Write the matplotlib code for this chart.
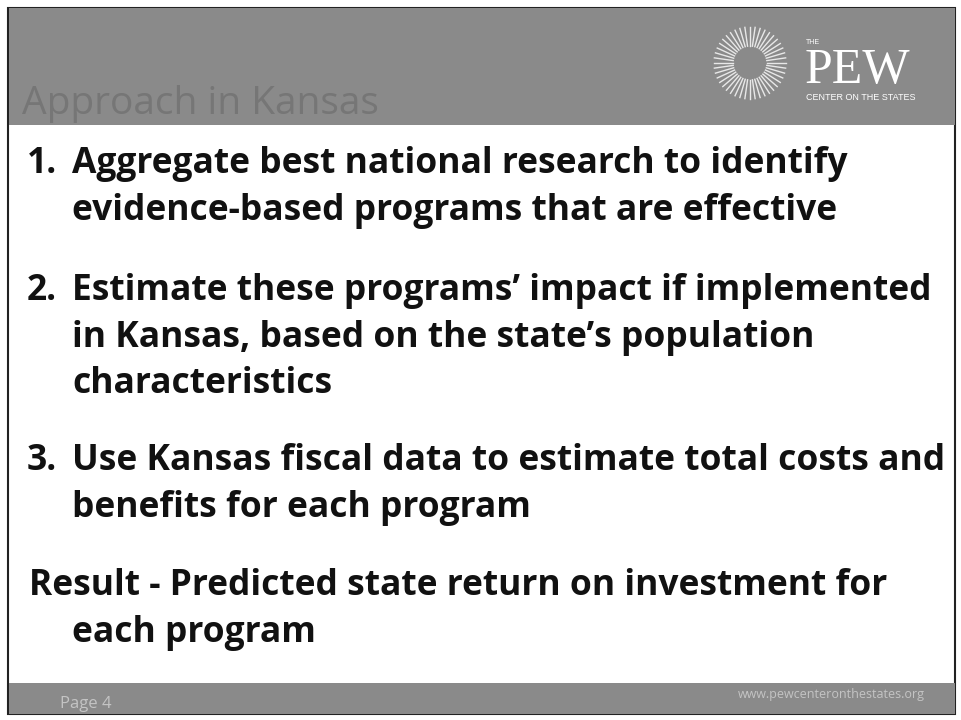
import matplotlib
matplotlib.use("Agg")
import matplotlib.pyplot as plt
from matplotlib.patches import Rectangle
import numpy as np

title = "Approach in Kansas"
# (number marker, text, is_continuation)
lines = [
    ("1.", "Aggregate best national research to identify", False),
    ("", "evidence-based programs that are effective", True),
    ("2.", "Estimate these programs\u2019 impact if implemented", False),
    ("", "in Kansas, based on the state\u2019s population", True),
    ("", "characteristics", True),
    ("3.", "Use Kansas fiscal data to estimate total costs and", False),
    ("", "benefits for each program", True),
    ("", "Result - Predicted state return on investment for", False),
    ("", "each program", True),
]
line_baselines = [173, 220, 300, 347, 393, 470, 517, 595, 642]
footer_left = "Page 4"
footer_right = "www.pewcenteronthestates.org"

W, H = 961, 720
fig = plt.figure(figsize=(W / 100, H / 100), dpi=100)
ax = fig.add_axes([0, 0, 1, 1])
ax.set_xlim(0, W)
ax.set_ylim(H, 0)
ax.axis("off")

# slide border
ax.add_patch(Rectangle((8, 8), 947, 706, facecolor="white", edgecolor="#222222", lw=1.5))
# header band
ax.add_patch(Rectangle((9, 8), 946, 117, facecolor="#8a8a8a", edgecolor="none"))
# footer band
ax.add_patch(Rectangle((9, 683), 946, 31, facecolor="#8a8a8a", edgecolor="none"))

ax.text(22, 114, title, fontsize=28, color="#767676", family="Open Sans", va="baseline")

# PEW logo: sunburst + text
cx, cy = 750, 63
for a in np.linspace(0, 2 * np.pi, 44, endpoint=False):
    r1, r2 = 17, 36
    ax.plot([cx + r1 * np.cos(a), cx + r2 * np.cos(a)],
            [cy + r1 * np.sin(a), cy + r2 * np.sin(a)], color="#e8e8e8", lw=1.0)
ax.text(806, 44, "THE", fontsize=5, color="white", family="Liberation Sans", va="baseline")
ax.text(805, 83, "PEW", fontsize=36, color="white", family="Liberation Serif", va="baseline")
ax.text(806, 100, "CENTER ON THE STATES", fontsize=6.5, color="white", family="Liberation Sans", va="baseline")

for (num, txt, cont), y in zip(lines, line_baselines):
    kw = dict(fontsize=25.5, fontweight="bold", color="#111111", family="Open Sans", va="baseline")
    if num:
        ax.text(27, y, num, **kw)
        ax.text(72, y, txt, **kw)
    elif cont:
        ax.text(72, y, txt, **kw)
    else:
        ax.text(29, y, txt, **kw)

ax.text(60, 708, footer_left, fontsize=12, color="#c4c4c4", family="Open Sans", va="baseline")
ax.text(925, 698, footer_right, fontsize=9, color="#c4c4c4", family="Open Sans", va="baseline", ha="right")

fig.savefig("out.png", dpi=100)
